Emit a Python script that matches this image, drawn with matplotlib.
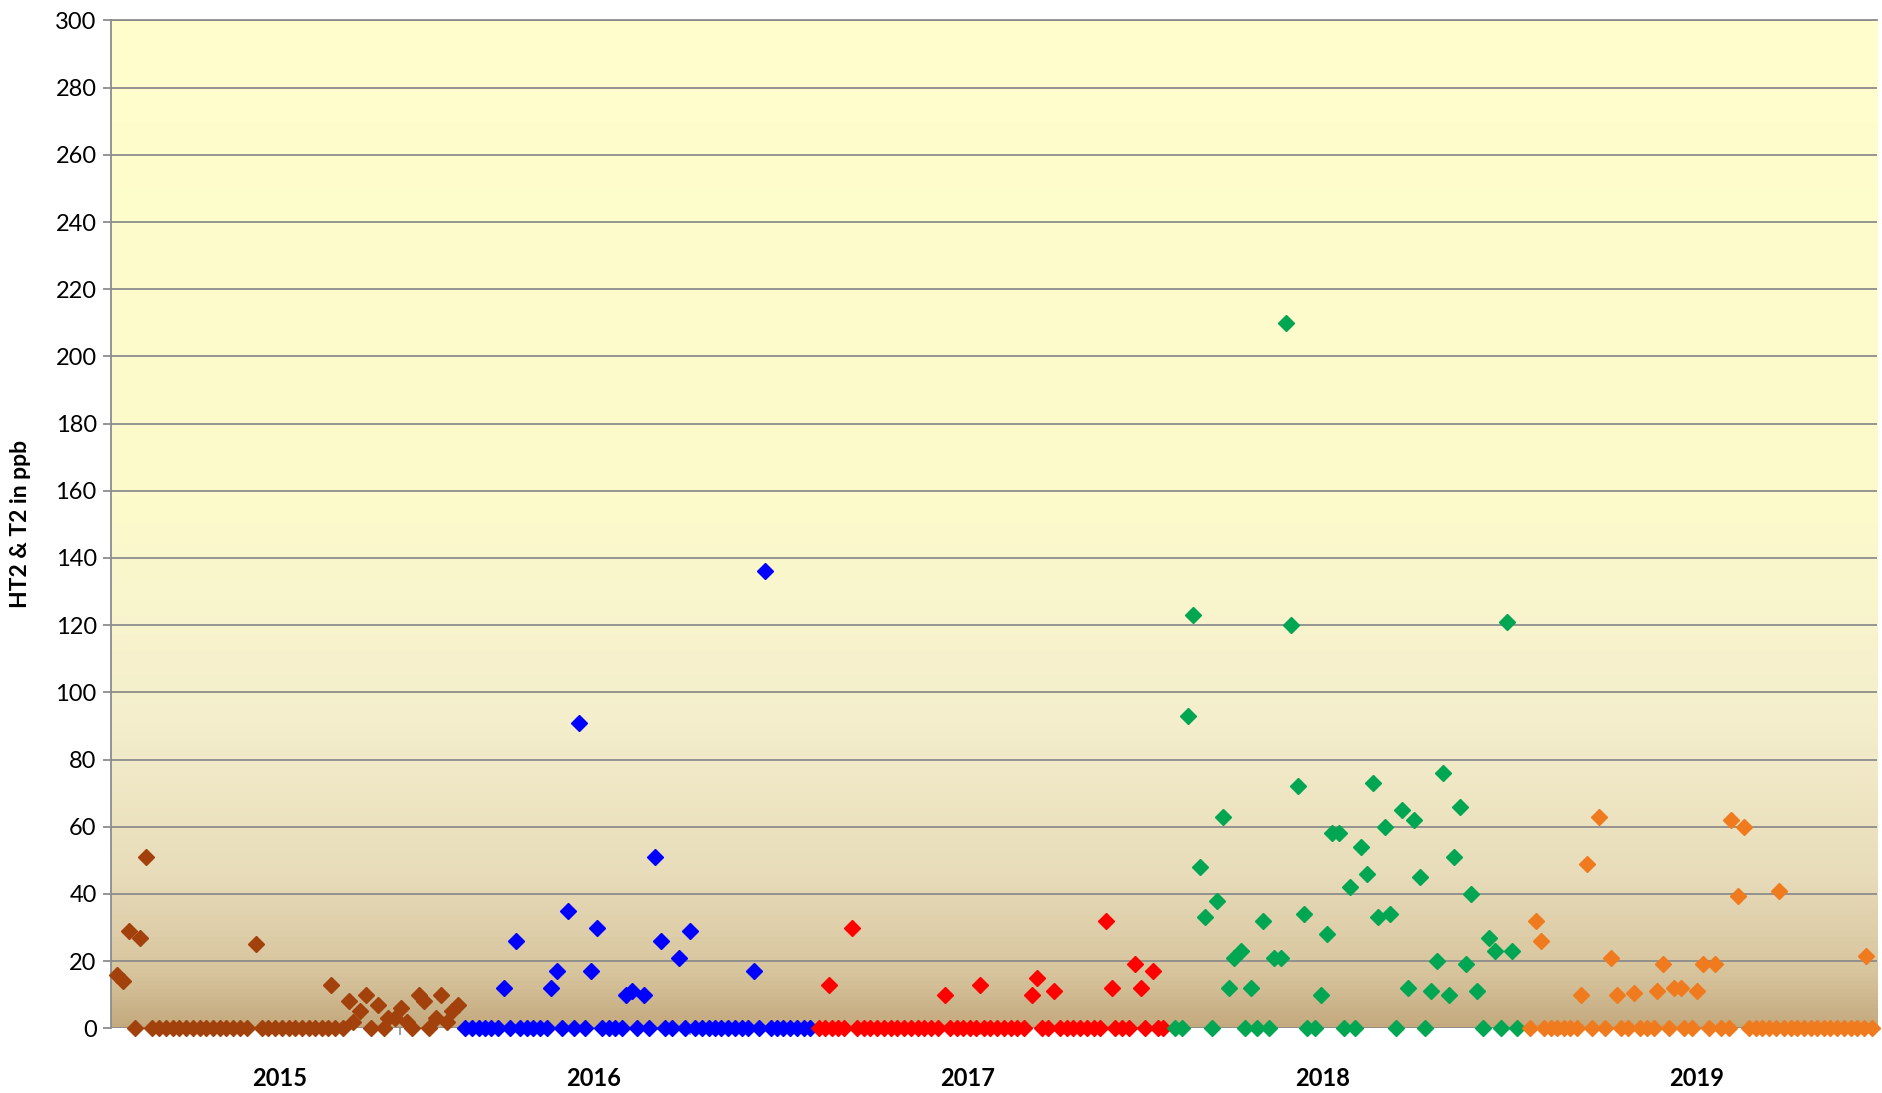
import numpy as np
import matplotlib.pyplot as plt
from matplotlib.colors import LinearSegmentedColormap

plt.rcParams['font.family'] = ['Lato', 'DejaVu Sans']

# x = sample week counted from the first sample, y = HT2 & T2 in ppb
x_2015 = [0.4, 1.4, 2.2, 3.9, 4.7, 21.1, 32.2, 34.8, 35.5, 36.5, 37.4, 39.1, 40.7,
          41.7, 42.6, 43.4, 45.2, 46.0, 47.7, 48.5, 49.4, 50.1, 51.0]
y_2015 = [16, 14, 29, 27, 51, 25, 13, 8, 2, 5, 10, 7, 3, 3, 6, 2, 10, 8, 3, 10, 2, 5, 7]
zero_2015 = [3.1, 5.7, 6.7, 7.7, 8.7, 9.7, 10.7, 11.7, 12.7, 13.7, 14.7, 15.7, 16.7,
             17.7, 18.7, 19.8, 21.9, 22.9, 23.9, 24.9, 25.9, 26.9, 27.9, 28.9, 29.9,
             30.9, 31.7, 32.8, 34.0, 38.2, 40.0, 44.2, 46.8]

x_2016 = [57.9, 59.7, 64.9, 65.7, 67.4, 69.0, 70.8, 71.6, 75.9, 76.8, 78.6, 80.3,
          81.2, 83.8, 85.4, 94.9, 96.6]
y_2016 = [12, 26, 12, 17, 35, 91, 17, 30, 10, 11, 10, 51, 26, 21, 29, 17, 136]
zero_2016 = [52.1, 53.1, 54.1, 55.1, 56.0, 57.0, 58.8, 60.3, 61.2, 62.2, 63.2, 64.2,
             66.4, 68.2, 69.9, 72.4, 73.4, 74.3, 75.3, 77.6, 79.4, 81.8, 82.8, 84.7,
             86.2, 87.2, 88.2, 89.2, 90.1, 91.1, 92.1, 93.1, 94.1, 95.7, 97.4, 98.3,
             99.3, 100.3, 101.3, 102.3, 103.3]

x_2017 = [106.0, 109.5, 123.2, 128.4, 136.1, 136.9, 139.5, 147.2, 148.1, 151.5,
          152.4, 154.1]
y_2017 = [13, 30, 10, 13, 10, 15, 11, 32, 12, 19, 12, 17]
zero_2017 = [104.6, 105.5, 106.5, 107.4, 108.3, 110.2, 111.2, 112.2, 113.2, 114.2,
             115.2, 116.2, 117.2, 118.2, 119.2, 120.2, 121.2, 122.2, 124.0, 125.0,
             126.0, 127.0, 127.9, 129.0, 130.0, 131.0, 132.0, 133.0, 134.0, 135.0,
             137.6, 138.6, 140.3, 141.3, 142.3, 143.3, 144.3, 145.3, 146.3, 148.5,
             149.5, 150.5, 152.9, 154.8, 155.6]

x_2018 = [159.3, 160.0, 161.1, 161.9, 163.6, 164.5, 165.4, 166.2, 167.1, 168.7,
          170.4, 172.1, 173.1, 173.9, 174.6, 175.6, 176.5, 179.1, 179.9, 180.7,
          181.7, 183.3, 185.0, 185.9, 186.8, 187.5, 188.5, 189.3, 191.0, 191.9,
          192.8, 193.7, 195.4, 196.3, 197.1, 198.0, 198.7, 199.6, 200.5, 201.3,
          202.2, 204.0, 204.8, 206.6, 207.4]
y_2018 = [93, 123, 48, 33, 38, 63, 12, 21, 23, 12, 32, 21, 21, 210, 120, 72, 34, 10,
          28, 58, 58, 42, 54, 46, 73, 33, 60, 34, 65, 12, 62, 45, 11, 20, 76, 10, 51,
          66, 19, 40, 11, 27, 23, 121, 23]
zero_2018 = [157.4, 158.4, 162.9, 167.8, 169.6, 171.3, 177.0, 178.2, 182.4, 184.1,
             190.2, 194.5, 203.1, 205.7, 208.1]

x_2019 = [210.9, 211.7, 217.6, 218.5, 220.2, 222.0, 222.9, 225.4, 228.9, 229.7,
          231.4, 232.4, 234.8, 235.7, 237.5, 239.9, 240.9, 241.8, 247.0, 259.8]
y_2019 = [32, 26, 10, 49, 63, 21, 10, 10.5, 11, 19, 12, 12, 11, 19, 19, 62, 39.5, 60,
          41, 21.5]
zero_2019 = [210.0, 212.1, 213.1, 214.1, 215.1, 216.0, 217.0, 219.3, 221.1, 223.5,
             224.5, 226.4, 227.4, 228.4, 230.6, 232.9, 234.1, 236.6, 238.3, 239.5,
             242.5, 243.5, 244.5, 245.5, 246.5, 247.7, 248.7, 249.7, 250.7, 251.7,
             252.6, 253.6, 254.6, 255.6, 256.6, 257.6, 258.6, 259.6, 260.7]

years = ['2015', '2016', '2017', '2018', '2019']
year_pos = [24.6, 71.1, 126.6, 179.3, 234.7]
colors = ['#A3410C', '#0000FF', '#FF0000', '#00A651', '#F07A1E']

series = [(x_2015, y_2015, zero_2015), (x_2016, y_2016, zero_2016),
          (x_2017, y_2017, zero_2017), (x_2018, y_2018, zero_2018),
          (x_2019, y_2019, zero_2019)]

fig = plt.figure(figsize=(18.83, 10.93), dpi=100)
ax = fig.add_axes([0.0587, 0.0592, 0.9381, 0.9221])

# background gradient, brown at the bottom fading to yellow
bg = LinearSegmentedColormap.from_list('bg', [
    (0.0, '#C4A97E'), (0.05, '#D6C39C'), (0.15, '#E8DCBA'), (0.3, '#F4EECC'),
    (0.5, '#FCF9CC'), (1.0, '#FFFECB')])
ax.imshow(np.linspace(0, 1, 256).reshape(-1, 1), cmap=bg, origin='lower',
          extent=[-0.5, 261.5, 0, 300], aspect='auto', zorder=0)

for (xs, ys, zs), c in zip(series, colors):
    ax.plot(list(xs) + list(zs), list(ys) + [0] * len(zs), ls='none', marker='D',
            ms=7.8, color=c, mec=c, clip_on=False, zorder=3)

ax.set_xlim(-0.5, 261.5)
ax.set_ylim(0, 300)
ax.set_yticks(range(0, 301, 20))
ax.yaxis.grid(True, color='#8C8C8C', lw=1.3, zorder=1)
ax.set_axisbelow(False)
for s in ['right', 'bottom']:
    ax.spines[s].set_visible(False)
ax.spines['left'].set_color('#8C8C8C')
ax.spines['left'].set_linewidth(1.3)
ax.spines['top'].set_color('#8C8C8C')
ax.spines['top'].set_linewidth(1.3)

ax.set_xticks(year_pos)
ax.set_xticklabels(years, fontsize=17, fontweight='bold')
ax.tick_params(axis='x', which='major', length=0, pad=28)
ax.set_xticks([42.5, 85.5, 128.5, 171.5, 214.5, 257.5], minor=True)
ax.tick_params(axis='x', which='minor', length=5, color='#8C8C8C', width=1.2)
ax.tick_params(axis='y', labelsize=17, length=6, color='#8C8C8C', width=1.3, pad=4)

ax.set_ylabel('HT2 & T2 in ppb', fontsize=16.5, fontweight='bold')
ax.yaxis.set_label_coords(-0.045, 0.5)

fig.savefig('out.png', dpi=100)
